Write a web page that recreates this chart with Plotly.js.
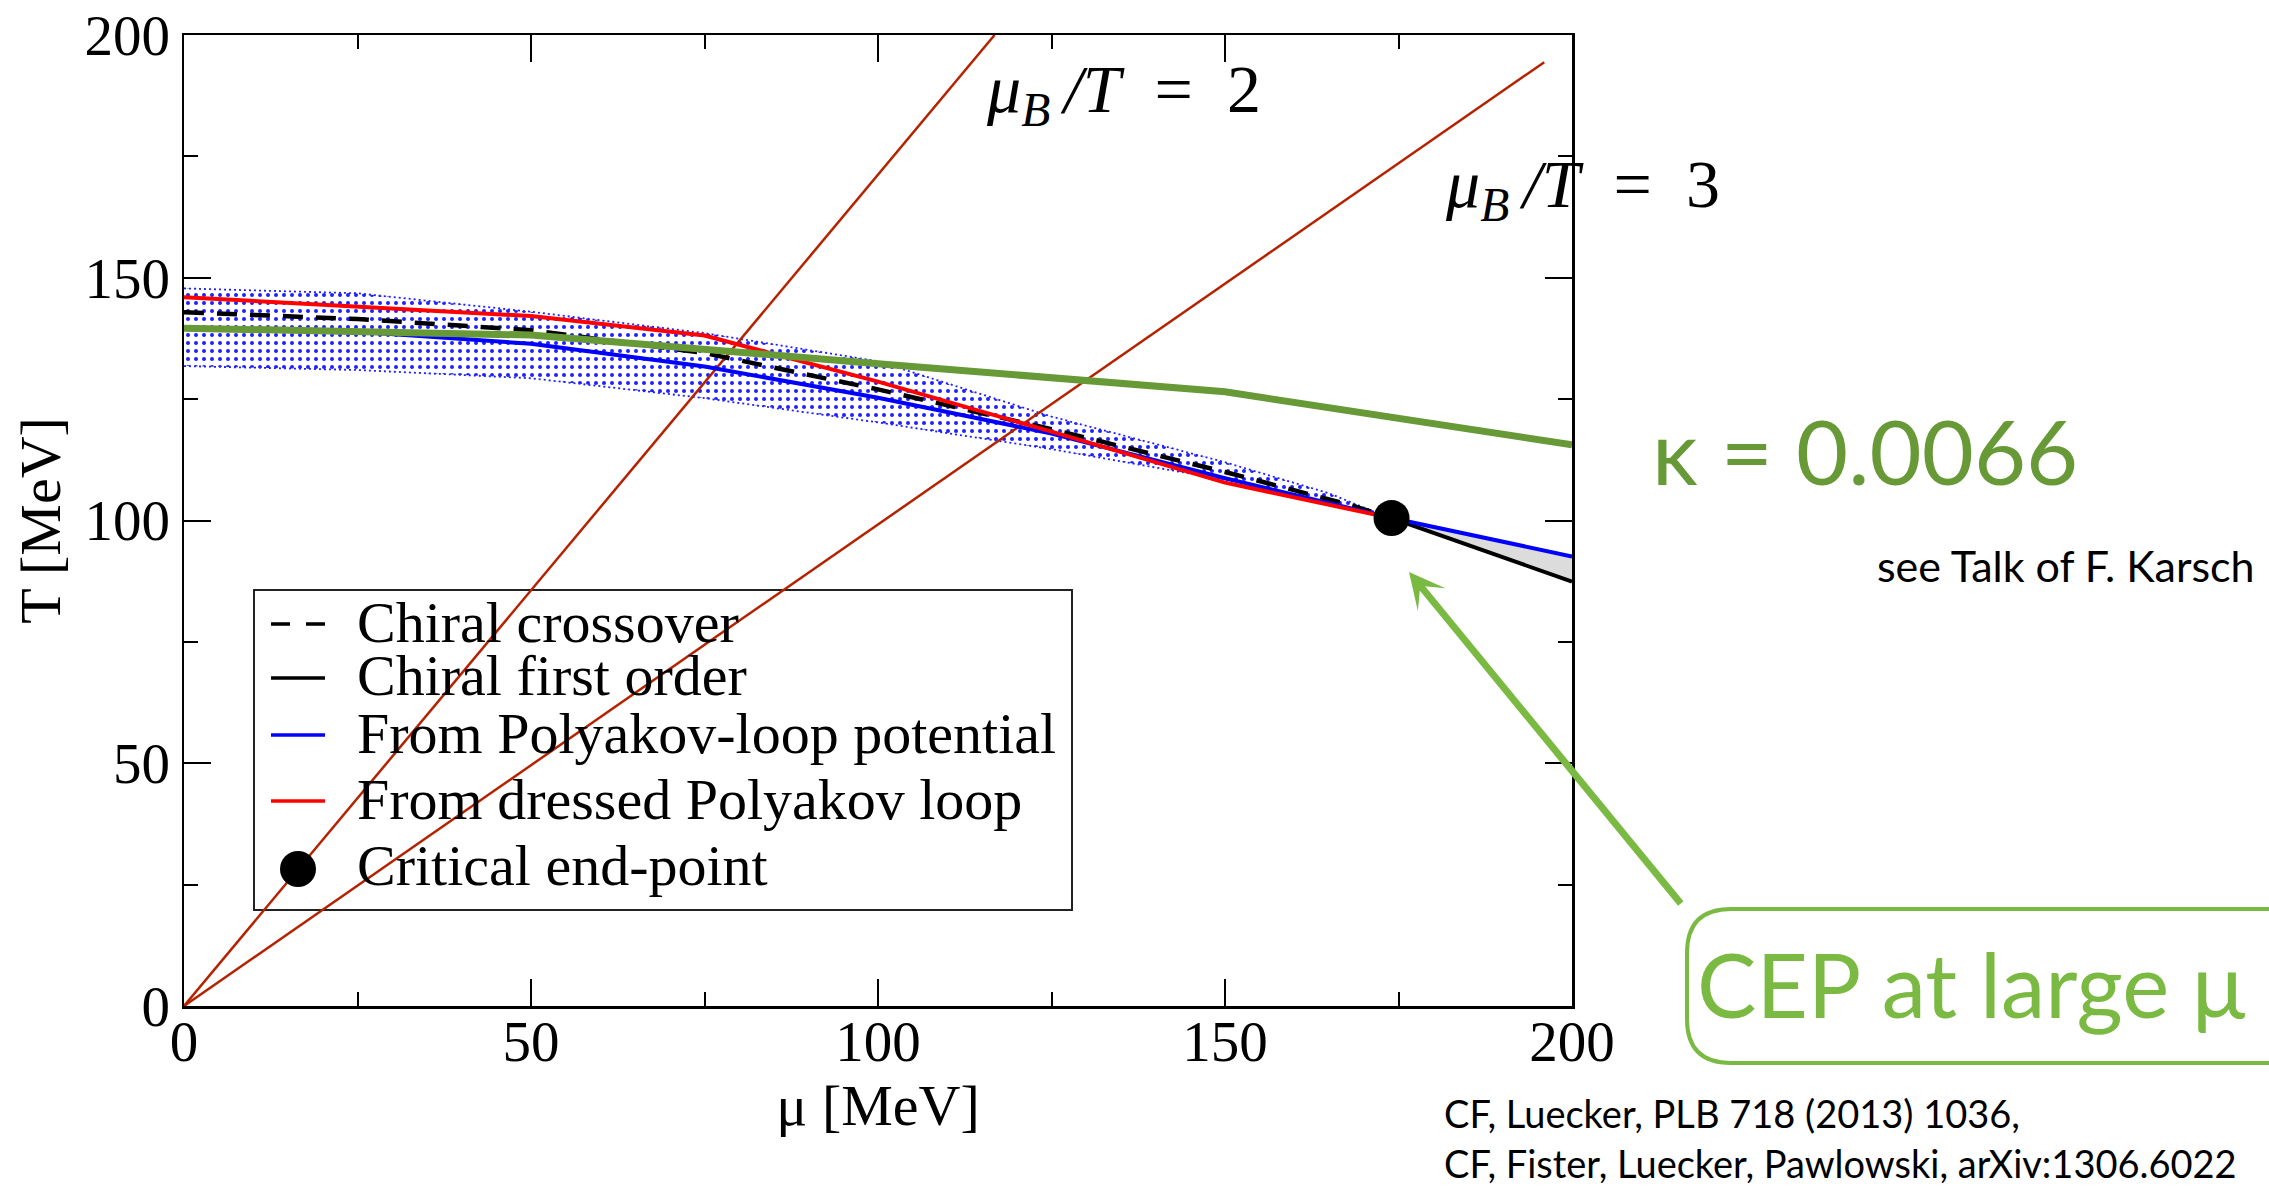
<!DOCTYPE html>
<html>
<head>
<meta charset="utf-8">
<script src="https://cdn.plot.ly/plotly-3.0.1.min.js"></script>
<style>
  html, body { margin: 0; padding: 0; background: #ffffff; }
  #chart { width: 2269px; height: 1187px; }
</style>
</head>
<body>
<div id="chart"></div>
<script>
// ---- data: chemical potential mu [MeV] and temperature T [MeV] ----
const bandMu    = [0, 25, 50, 75, 100, 125, 150, 165, 172];
const bandUpper = [147.8, 146.8, 143.0, 138.6, 132.8, 121.4, 112.0, 105.6, 101.5];
const bandLower = [131.8, 131.0, 129.3, 125.2, 120.2, 114.7, 108.4, 103.6, 101.0];

const crossMu = [0, 25, 50, 75, 100, 125, 150, 168, 174];
const crossT  = [142.9, 141.5, 139.2, 134.5, 127.0, 118.8, 110.0, 103.2, 100.5];

const firstMu = [174, 200];
const firstT  = [100.5, 87.4];

const polyMu = [0, 25, 50, 75, 100, 125, 150, 174, 200];
const polyT  = [139.6, 138.9, 136.4, 131.7, 125.3, 117.9, 108.7, 100.5, 92.6];

const dressedMu = [0, 25, 50, 75, 100, 125, 150, 174];
const dressedT  = [146.0, 144.1, 142.1, 138.1, 128.6, 118.3, 107.8, 100.5];

const kappaMu = [0, 50, 100, 150, 200];
const kappaT  = [139.6, 138.2, 132.3, 126.5, 115.6];

const cepMu = [174];
const cepT  = [100.5];

const ratio2Mu = [0, 116.8];
const ratio2T  = [0, 200];
const ratio3Mu = [0, 196];
const ratio3T  = [0, 194.4];

const legendLabels = ['Chiral crossover', 'Chiral first order', 'From Polyakov-loop potential',
                      'From dressed Polyakov loop', 'Critical end-point'];
const ratioLabels = ['<i>μ</i><sub><i>B</i></sub>\u2009<i>/T</i>\u2002=\u20022',
                     '<i>μ</i><sub><i>B</i></sub>\u2009<i>/T</i>\u2002=\u20023'];
const kappaLabel = 'κ = 0.0066';
const talkLabel = 'see Talk of F. Karsch';
const cepLabel = 'CEP at large μ';
const refLabels = ['CF, Luecker, PLB 718 (2013) 1036,', 'CF, Fister, Luecker, Pawlowski, arXiv:1306.6022'];

// ---- page geometry (pixels) ----
const W = 2269, H = 1187;
const PL = 184, PR = 1572, PT = 35, PB = 1006;
const px = v => (v - PL) / (PR - PL);     // pixel x -> paper x
const py = v => (PB - v) / (PB - PT);     // pixel y -> paper y

const SERIF = '"Liberation Serif", "Times New Roman", serif';
const SANS = 'Lato, "Noto Sans", sans-serif';
const GREEN_DARK = '#679a37';
const GREEN_LIGHT = '#7aba42';
const MU_RED = '#b52200';

// grey region between the Polyakov-loop curve and the first-order line
const tailIdx = polyMu.map((m, i) => i).filter(i => polyMu[i] >= firstMu[0]);
const greyMu = tailIdx.map(i => polyMu[i]).concat(firstMu.slice().reverse());
const greyT  = tailIdx.map(i => polyT[i]).concat(firstT.slice().reverse());

const data = [
  { x: bandMu, y: bandLower, mode: 'lines', showlegend: false, hoverinfo: 'skip',
    line: { color: '#1f1fff', width: 1.8, dash: '2px,3px' } },
  { x: bandMu, y: bandUpper, mode: 'lines', showlegend: false, hoverinfo: 'skip',
    fill: 'tonexty', fillcolor: 'rgba(255,255,255,0)',
    fillpattern: { shape: '.', fgcolor: '#1f1fff', bgcolor: 'rgba(255,255,255,0)', size: 8, solidity: 0.2 },
    line: { color: '#1f1fff', width: 1.8, dash: '2px,3px' } },
  { x: greyMu, y: greyT, mode: 'lines', fill: 'toself', fillcolor: '#dcdcdc',
    line: { width: 0 }, showlegend: false, hoverinfo: 'skip' },
  { x: ratio2Mu, y: ratio2T, mode: 'lines', showlegend: false,
    line: { color: MU_RED, width: 2.5 } },
  { x: ratio3Mu, y: ratio3T, mode: 'lines', showlegend: false,
    line: { color: MU_RED, width: 2.5 } },
  { x: crossMu, y: crossT, mode: 'lines', name: legendLabels[0], showlegend: false,
    line: { color: '#000000', width: 4.5, dash: '20px,13px' } },
  { x: firstMu, y: firstT, mode: 'lines', name: legendLabels[1], showlegend: false,
    line: { color: '#000000', width: 4 } },
  { x: polyMu, y: polyT, mode: 'lines', name: legendLabels[2], showlegend: false,
    line: { color: '#0000ff', width: 4 } },
  { x: dressedMu, y: dressedT, mode: 'lines', name: legendLabels[3], showlegend: false,
    line: { color: '#ff0000', width: 4 } },
  { x: kappaMu, y: kappaT, mode: 'lines', name: kappaLabel, showlegend: false,
    line: { color: GREEN_DARK, width: 7 } },
  { x: cepMu, y: cepT, mode: 'markers', name: legendLabels[4], showlegend: false,
    marker: { color: '#000000', size: 36, symbol: 'circle' } }
];

// ---- hand-drawn legend box ----
const legRows = [622, 676, 733, 799, 865];
const legSymX0 = 271, legSymX1 = 325, legTextX = 355;
const legStyles = [
  { color: '#000000', dash: '19px,16px' },
  { color: '#000000', dash: 'solid' },
  { color: '#0000ff', dash: 'solid' },
  { color: '#ff0000', dash: 'solid' }
];

const shapes = [
  { type: 'rect', xref: 'paper', yref: 'paper', x0: px(254), x1: px(1072), y0: py(590), y1: py(910),
    line: { color: '#222222', width: 2 }, fillcolor: 'rgba(0,0,0,0)', layer: 'below' }
];
legStyles.forEach((s, i) => {
  shapes.push({ type: 'line', xref: 'paper', yref: 'paper',
    x0: px(legSymX0), x1: px(legSymX1), y0: py(legRows[i] + 2), y1: py(legRows[i] + 2),
    line: { color: s.color, width: 3.5, dash: s.dash } });
});
shapes.push({ type: 'circle', xref: 'paper', yref: 'paper',
  x0: px(298 - 18), x1: px(298 + 18), y0: py(legRows[4] + 22), y1: py(legRows[4] - 14),
  fillcolor: '#000000', line: { color: '#000000', width: 0 } });

// rounded box around the CEP caption
(function () {
  const x0 = 1687, x1 = 2310, y0 = 909, y1 = 1063, r = 44;
  const P = (a, b) => px(a).toFixed(5) + ',' + py(b).toFixed(5);
  const path = 'M' + P(x0 + r, y0) + ' L' + P(x1 - r, y0) + ' Q' + P(x1, y0) + ' ' + P(x1, y0 + r) +
    ' L' + P(x1, y1 - r) + ' Q' + P(x1, y1) + ' ' + P(x1 - r, y1) +
    ' L' + P(x0 + r, y1) + ' Q' + P(x0, y1) + ' ' + P(x0, y1 - r) +
    ' L' + P(x0, y0 + r) + ' Q' + P(x0, y0) + ' ' + P(x0 + r, y0) + ' Z';
  shapes.push({ type: 'path', xref: 'paper', yref: 'paper', path: path,
    line: { color: GREEN_LIGHT, width: 4 }, fillcolor: 'rgba(0,0,0,0)' });
})();

const annotations = [];
legendLabels.forEach((t, i) => {
  annotations.push({ xref: 'paper', yref: 'paper', x: px(legTextX), y: py(legRows[i]),
    xanchor: 'left', yanchor: 'middle', text: t, showarrow: false,
    font: { family: SERIF, size: 58, color: '#000000' } });
});
annotations.push(
  { xref: 'paper', yref: 'paper', x: px(984), y: py(93), xanchor: 'left', yanchor: 'middle',
    text: ratioLabels[0], showarrow: false, font: { family: SERIF, size: 68, color: '#000000' } },
  { xref: 'paper', yref: 'paper', x: px(1443), y: py(189), xanchor: 'left', yanchor: 'middle',
    text: ratioLabels[1], showarrow: false, font: { family: SERIF, size: 68, color: '#000000' } },
  { xref: 'paper', yref: 'paper', x: px(1650), y: py(450), xanchor: 'left', yanchor: 'middle',
    text: kappaLabel, showarrow: false, font: { family: SANS, size: 90, color: GREEN_DARK } },
  { xref: 'paper', yref: 'paper', x: px(1875), y: py(565), xanchor: 'left', yanchor: 'middle',
    text: talkLabel, showarrow: false, font: { family: SANS, size: 43, color: '#000000' } },
  { xref: 'paper', yref: 'paper', x: px(1695), y: py(983), xanchor: 'left', yanchor: 'middle',
    text: cepLabel, showarrow: false, font: { family: SANS, size: 89, color: GREEN_LIGHT } },
  { xref: 'paper', yref: 'paper', x: px(1442), y: py(1113), xanchor: 'left', yanchor: 'middle',
    text: refLabels[0], showarrow: false, font: { family: SANS, size: 38, color: '#000000' } },
  { xref: 'paper', yref: 'paper', x: px(1442), y: py(1163), xanchor: 'left', yanchor: 'middle',
    text: refLabels[1], showarrow: false, font: { family: SANS, size: 38, color: '#000000' } },
  // arrow pointing at the critical end-point
  { xref: 'paper', yref: 'paper', x: px(1409), y: py(572), text: '', showarrow: true,
    ax: 273, ay: 333, arrowhead: 3, arrowsize: 0.85, arrowwidth: 7, arrowcolor: GREEN_LIGHT }
);

const axisCommon = {
  range: [0, 200], dtick: 50, tick0: 0,
  showline: true, linecolor: '#000000', linewidth: 2.5, mirror: 'allticks',
  ticks: 'inside', ticklen: 27, tickwidth: 2, tickcolor: '#000000',
  minor: { ticks: 'inside', ticklen: 14, tickwidth: 2, tickcolor: '#000000', dtick: 25 },
  showgrid: false, zeroline: false,
  tickfont: { family: SERIF, size: 57, color: '#000000' }
};

const layout = {
  width: W, height: H,
  margin: { l: PL, r: W - PR, t: PT, b: H - PB, pad: 0 },
  paper_bgcolor: '#ffffff', plot_bgcolor: '#ffffff',
  showlegend: false,
  font: { family: SERIF, color: '#000000' },
  xaxis: Object.assign({}, axisCommon, {
    ticklabelstandoff: -16,
    title: { text: 'μ [MeV]', font: { family: SERIF, size: 58 }, standoff: 2 }
  }),
  yaxis: Object.assign({}, axisCommon, {
    title: { text: 'T [MeV]', font: { family: SERIF, size: 58 }, standoff: 6 }
  }),
  shapes: shapes,
  annotations: annotations
};

Plotly.newPlot('chart', data, layout, { staticPlot: true, displayModeBar: false });
</script>
</body>
</html>
